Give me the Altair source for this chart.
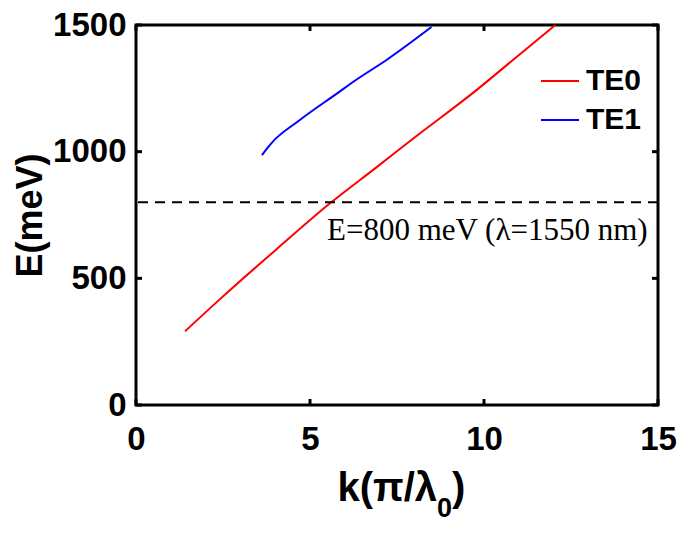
import altair as alt
import pandas as pd

# TE0 (red) dispersion
te0_k = [1.41, 2.39, 4.04, 5.61, 6.88, 8.07, 9.72, 10.91, 12.05]
te0_E = [291, 415, 615, 800, 935, 1063, 1236, 1371, 1500]
# TE1 (blue)
te1_k = [3.62, 3.75, 3.90, 4.66, 5.80, 6.32, 7.22, 8.49]
te1_E = [986, 1010, 1035, 1120, 1232, 1283, 1364, 1492]

x_ticks = [0, 5, 10, 15]
y_ticks = [0, 500, 1000, 1500]
ref_E = [800]
ref_label = ["E=800 meV (λ=1550 nm)"]

W, H = 522, 380

curves = pd.DataFrame(
    {"k": te0_k + te1_k,
     "E": te0_E + te1_E,
     "mode": ["TE0"] * len(te0_k) + ["TE1"] * len(te1_k),
     "order": list(range(len(te0_k))) + list(range(len(te1_k)))}
)

xs = alt.Scale(domain=[0, 15], nice=False)
ys = alt.Scale(domain=[0, 1500], nice=False)

lines = alt.Chart(curves).mark_line(strokeWidth=2, interpolate="monotone").encode(
    x=alt.X("k:Q", scale=xs,
            axis=alt.Axis(values=x_ticks, title=None, format="d")),
    y=alt.Y("E:Q", scale=ys,
            axis=alt.Axis(values=y_ticks, title="E(meV)", format="d")),
    color=alt.Color("mode:N",
                    scale=alt.Scale(domain=["TE0", "TE1"], range=["#ff0000", "#0000ff"]),
                    legend=alt.Legend(title=None, orient="none", legendX=404, legendY=36,
                                      symbolType="stroke", symbolSize=1444,
                                      symbolStrokeWidth=2, labelFontSize=30,
                                      labelFont="Liberation Sans", labelFontWeight="bold",
                                      labelColor="black", rowPadding=4, labelOffset=6)),
    order="order:Q",
)

ref_df = pd.DataFrame({"E": ref_E, "label": ref_label})
ref = alt.Chart(ref_df).mark_rule(color="black", strokeWidth=2, strokeDash=[10, 7]).encode(
    y=alt.Y("E:Q", scale=ys)
)
ref_text = alt.Chart(ref_df).mark_text(
    font="Liberation Serif", fontSize=31, align="left", baseline="alphabetic", color="black",
    dy=38
).encode(
    x=alt.value(191), y=alt.Y("E:Q", scale=ys), text="label:N"
)

# x-axis title with a real subscript, built from three text pieces
title_df = pd.DataFrame({"main": ["k(π/λ"], "sub": ["0"], "close": [")"]})
t_main = alt.Chart(title_df).mark_text(
    font="Liberation Sans", fontWeight="bold", fontSize=40, align="right",
    baseline="alphabetic", color="black"
).encode(x=alt.value(301), y=alt.value(476), text="main:N")
t_sub = alt.Chart(title_df).mark_text(
    font="Liberation Sans", fontWeight="bold", fontSize=27, align="left",
    baseline="alphabetic", color="black"
).encode(x=alt.value(301), y=alt.value(492), text="sub:N")
t_close = alt.Chart(title_df).mark_text(
    font="Liberation Sans", fontWeight="bold", fontSize=40, align="left",
    baseline="alphabetic", color="black"
).encode(x=alt.value(316), y=alt.value(476), text="close:N")

xt = pd.DataFrame({"k": x_ticks})
yt = pd.DataFrame({"E": y_ticks})
tick_b = alt.Chart(xt).mark_rule(color="black", strokeWidth=3).encode(
    x=alt.X("k:Q", scale=xs), y=alt.value(H), y2=alt.value(H - 6))
tick_t = alt.Chart(xt).mark_rule(color="black", strokeWidth=3).encode(
    x=alt.X("k:Q", scale=xs), y=alt.value(0), y2=alt.value(6))
tick_l = alt.Chart(yt).mark_rule(color="black", strokeWidth=3).encode(
    y=alt.Y("E:Q", scale=ys), x=alt.value(0), x2=alt.value(6))
tick_r = alt.Chart(yt).mark_rule(color="black", strokeWidth=3).encode(
    y=alt.Y("E:Q", scale=ys), x=alt.value(W), x2=alt.value(W - 6))

chart = alt.layer(lines, ref, ref_text, t_main, t_sub, t_close,
                  tick_b, tick_t, tick_l, tick_r).properties(
    width=W, height=H,
    autosize=alt.AutoSizeParams(type="none"),
    padding={"left": 128, "top": 17, "right": 19, "bottom": 118},
).configure_view(
    stroke="black", strokeWidth=3
).configure_axis(
    domain=False, grid=False, ticks=False, labelFlush=False,
    labelFont="Liberation Sans", labelFontWeight="bold", labelFontSize=33, labelColor="black",
    titleFont="Liberation Sans", titleFontWeight="bold", titleFontSize=36, titleColor="black",
).configure_axisX(
    labelPadding=18
).configure_axisY(
    labelPadding=10, titlePadding=3
)

chart.save("out.html", embed_options={"renderer": "svg", "actions": False})
